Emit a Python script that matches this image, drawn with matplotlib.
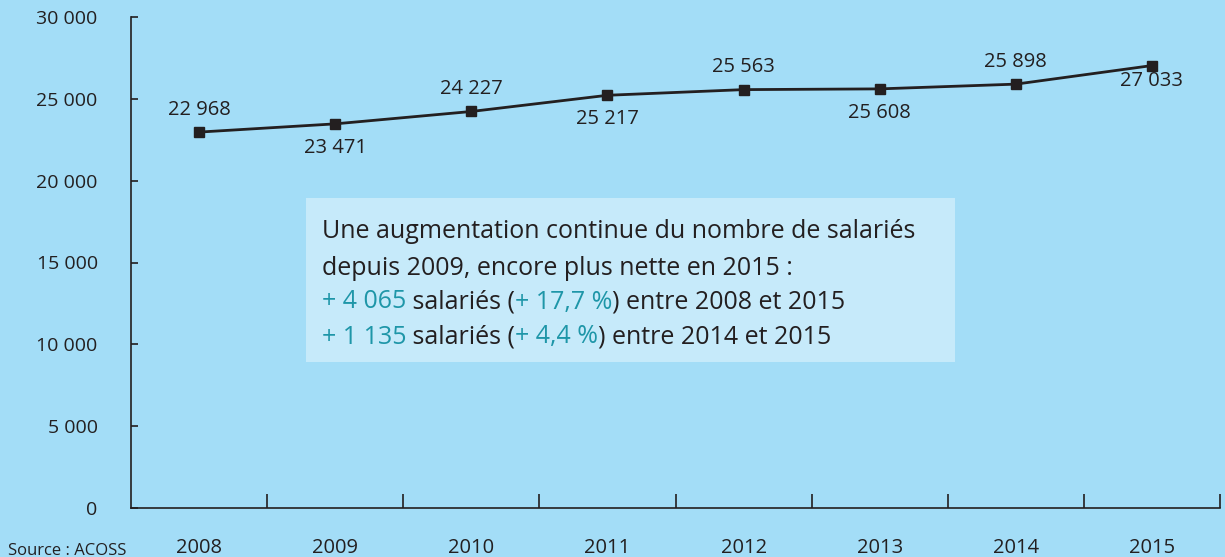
import numpy as np
import matplotlib.pyplot as plt

years = ["2008", "2009", "2010", "2011", "2012", "2013", "2014", "2015"]
salaries = [22968, 23471, 24227, 25217, 25563, 25608, 25898, 27033]
labels = ["22 968", "23 471", "24 227", "25 217", "25 563", "25 608", "25 898", "27 033"]
# label above (+) or below (-) the point
label_side = [1, -1, 1, -1, 1, -1, 1, -1]
yticks = [0, 5000, 10000, 15000, 20000, 25000, 30000]
ytick_labels = ["0", "5 000", "10 000", "15 000", "20 000", "25 000", "30 000"]

bg = "#A3DDF7"
dark = "#231F20"
teal = "#1E96A8"
font = "Open Sans"

fig = plt.figure(figsize=(12.25, 5.57), dpi=100, facecolor=bg)
ax = fig.add_axes([131 / 1225, 1 - 508 / 557, (1220 - 131) / 1225, (508 - 17) / 557])
ax.set_facecolor(bg)

x = np.arange(len(years))
ax.plot(x, salaries, color=dark, lw=2, marker="s", ms=6.5, zorder=3)

for xi, v, lab, side in zip(x, salaries, labels, label_side):
    if side > 0:
        ax.annotate(lab, (xi, v), xytext=(0, 9), textcoords="offset points",
                    ha="center", va="bottom", fontsize=14.5, color=dark, family=font)
    else:
        off = -4 if xi == len(years) - 1 else -10
        ax.annotate(lab, (xi, v), xytext=(0, off), textcoords="offset points",
                    ha="center", va="top", fontsize=14.5, color=dark, family=font)

ax.set_xlim(-0.5, len(years) - 0.5)
ax.set_ylim(0, 30000)

for s in ["top", "right"]:
    ax.spines[s].set_visible(False)
for s in ["left", "bottom"]:
    ax.spines[s].set_color(dark)
    ax.spines[s].set_linewidth(1.2)

ax.set_yticks(yticks)
ax.set_yticklabels(ytick_labels, family=font, fontsize=14, color=dark)
ax.tick_params(axis="y", direction="in", length=5, width=1.2, color=dark, pad=24)

ax.set_xticks(np.arange(len(years)) + 0.5)
ax.set_xticklabels([])
ax.tick_params(axis="x", direction="in", length=10, width=1.2, color=dark)
for xi, yr in zip(x, years):
    ax.text(xi, -0.082, yr, transform=ax.get_xaxis_transform(), ha="center", va="center",
            fontsize=14.5, color=dark, family=font)

fig.text(8 / 1225, 1 - 551 / 557, "Source : ACOSS", fontsize=12, color=dark, family=font,
         ha="left", va="center")

# text box
box = plt.Rectangle((306 / 1225, 1 - 362 / 557), (955 - 306) / 1225, (362 - 198) / 557,
                    transform=fig.transFigure, facecolor="#C6EAFA", edgecolor="none", zorder=1)
fig.patches.append(box)

lines = [
    [("Une augmentation continue du nombre de salariés", dark)],
    [("depuis 2009, encore plus nette en 2015 :", dark)],
    [("+ 4 065", teal), (" salariés (", dark), ("+ 17,7 %", teal), (") entre 2008 et 2015", dark)],
    [("+ 1 135", teal), (" salariés (", dark), ("+ 4,4 %", teal), (") entre 2014 et 2015", dark)],
]
line_y = [232, 268, 302, 337]

fig.canvas.draw()
renderer = fig.canvas.get_renderer()
for parts, ly in zip(lines, line_y):
    xpos = 322
    for txt, col in parts:
        t = fig.text(xpos / 1225, 1 - ly / 557, txt, fontsize=18, color=col, family=font,
                     ha="left", va="center")
        bb = t.get_window_extent(renderer=renderer)
        xpos += bb.width

fig.savefig("out.png", dpi=100, facecolor=bg)
